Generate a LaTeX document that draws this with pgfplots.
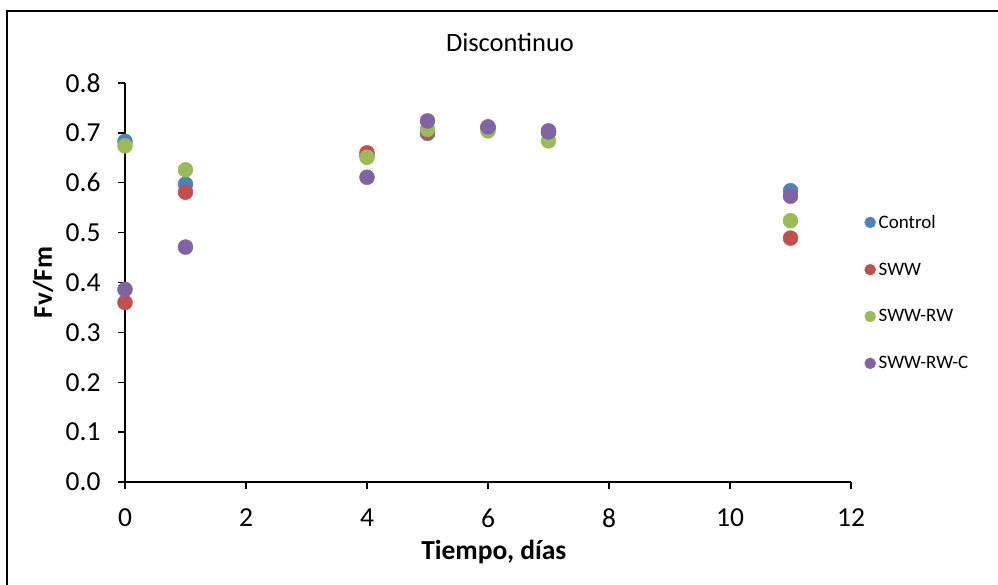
\documentclass[border=0pt]{standalone}
\usepackage{pgfplots}
\pgfplotsset{compat=1.18}
\usepackage{fontspec}
\setmainfont{Carlito}
\definecolor{cBlue}{HTML}{4F81BD}
\definecolor{cRed}{HTML}{C0504D}
\definecolor{cGreen}{HTML}{9BBB59}
\definecolor{cPurple}{HTML}{8064A2}
\begin{document}
\begin{tikzpicture}[x=1pt,y=1pt]
\useasboundingbox (0,0) rectangle (998,-585);
\draw[line width=2pt] (7,-586) -- (7,-11) -- (999,-11);
\node[font=\fontsize{26.5}{30}\selectfont] at (510,-42) {Discontinuo};
\begin{axis}[
  at={(125pt,-482pt)}, anchor=south west,
  scale only axis, width=726pt, height=399pt,
  xmin=0, xmax=12, ymin=0, ymax=0.8,
  xtick={0,2,4,6,8,10,12},
  ytick={0,0.1,0.2,0.3,0.4,0.5,0.6,0.7,0.8},
  axis lines*=left,
  axis line style={line width=1.3pt, black},
  tick align=outside,
  major tick length=7pt,
  tick style={line width=1.3pt, black},
  /pgf/number format/assume math mode=true,
  yticklabel style={/pgf/number format/fixed, /pgf/number format/fixed zerofill, /pgf/number format/precision=1, xshift=-14pt},
  ticklabel style={font=\fontsize{27.5}{32}\selectfont},
  xticklabel style={yshift=-16pt},
  xlabel={Tiempo, días},
  ylabel={Fv/Fm},
  every axis x label/.style={at={(axis description cs:0.508,-0.195)}, anchor=base, font=\bfseries\fontsize{27.5}{31}\selectfont},
  every axis y label/.style={at={(axis description cs:-0.113,0.5)}, anchor=center, rotate=90, font=\bfseries\fontsize{27}{31}\selectfont},
  clip=false,
  legend style={at={(axis description cs:1.0186,0.672)}, anchor=north west, draw=none, fill=none,
    font=\fontsize{19}{22}\selectfont, row sep=31pt, inner sep=0pt,
    nodes={inner sep=1pt}, /tikz/every odd column/.style={column sep=2pt}},
  legend cell align=left,
  legend image code/.code={\draw[#1, mark size=5.5pt] plot coordinates {(0pt,0pt)};},
  every axis plot/.append style={only marks, mark=*, mark size=7.5pt},
]
\addplot[color=cBlue] coordinates {(0,0.683) (1,0.597) (4,0.655) (5,0.699) (6,0.711) (7,0.704) (11,0.584)};
\addlegendentry{Control}
\addplot[color=cRed] coordinates {(0,0.360) (1,0.581) (4,0.660) (5,0.702) (6,0.710) (7,0.702) (11,0.489)};
\addlegendentry{SWW}
\addplot[color=cGreen] coordinates {(0,0.674) (1,0.626) (4,0.651) (5,0.707) (6,0.704) (7,0.684) (11,0.524)};
\addlegendentry{SWW-RW}
\addplot[color=cPurple] coordinates {(0,0.386) (1,0.471) (4,0.611) (5,0.724) (6,0.712) (7,0.702) (11,0.573)};
\addlegendentry{SWW-RW-C}
\end{axis}
\end{tikzpicture}
\end{document}
